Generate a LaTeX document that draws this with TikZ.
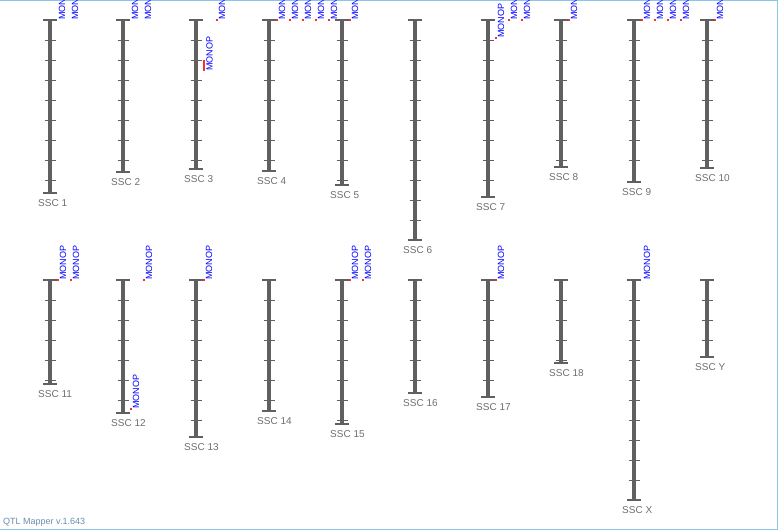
\documentclass[tikz,border=0pt]{standalone}
\usepackage{fontspec}
\setmainfont{Liberation Sans}
\definecolor{chrgray}{HTML}{606060}
\definecolor{namegray}{HTML}{6E6E6E}
\definecolor{qtlred}{HTML}{F03232}
\definecolor{frameblue}{HTML}{8CC4E8}
\definecolor{versionblue}{HTML}{6A8CAE}

\begin{document}
\begin{tikzpicture}[x=1pt,y=-1pt]
    \tikzstyle{chromosome}=[draw=chrgray, line width=4pt]
    \tikzstyle{chrend}=[draw=chrgray, line width=1.7pt]
    \tikzstyle{chrtick}=[draw=chrgray, line width=1pt]
    \tikzstyle{chrname}=[anchor=west, inner sep=0pt, text=namegray, font=\fontsize{10}{12}\selectfont]
    \tikzstyle{qtl}=[fill=qtlred, minimum size=2.5pt, inner sep=0pt]
    \tikzstyle{qtlspan}=[draw=qtlred, line width=2pt]
    \tikzstyle{qtllabel}=[rotate=90, anchor=west, inner sep=0pt, text=blue, font=\fontsize{9}{10}\selectfont]
    \tikzstyle{frame}=[draw=frameblue, line width=1pt]

    \useasboundingbox (0,0) rectangle (778,530);
    \clip (0,0) rectangle (778,530);

    % Panel frame
    \draw[frame] (0,0.5) -- (777.5,0.5) -- (777.5,529) -- (0,529);

    % Draw the chromosomes: name / x / top / bottom
    \foreach \name/\x/\top/\bot in {1/50/20/193, 2/123/20/172, 3/196/20/169, 4/269/20/171, 5/342/20/185,
        6/415/20/240, 7/488/20/197, 8/561/20/167, 9/634/20/182, 10/707/20/168,
        11/50/280/384, 12/123/280/413, 13/196/280/437, 14/269/280/411, 15/342/280/424,
        16/415/280/393, 17/488/280/397, 18/561/280/363, X/634/280/500, Y/707/280/357}
    {
        \coordinate (C-\name-top) at (\x,\top);
        \coordinate (C-\name-bot) at (\x,\bot);
        \path[chromosome] (C-\name-top) -- (C-\name-bot);
        \path[chrend] ([xshift=-7pt]C-\name-top) -- ([xshift=7pt]C-\name-top);
        \path[chrend] ([xshift=-7pt]C-\name-bot) -- ([xshift=7pt]C-\name-bot);
        \pgfmathtruncatemacro{\nticks}{(\bot-\top-3)/20}
        \foreach \k in {1,...,\nticks}
            \path[chrtick] ([xshift=-5.5pt,yshift=-20*\k pt]C-\name-top) -- ([xshift=5.5pt,yshift=-20*\k pt]C-\name-top);
        \node[chrname] (N-\name) at (\x-12,\bot+10) {SSC \name};
    }

    % QTL positions with marker
    \foreach \mx/\my in {217/20, 277/20, 290/20, 303/20, 316/20, 329/20, 350/20,
        496/38, 509/20, 522/20, 569/20, 642/20, 655/20, 668/20, 681/20, 715/20,
        58/280, 71/280, 144/280, 131/409, 204/280, 350/280, 363/280, 496/280}
    {
        \node[qtl] (Q-\mx-\my) at (\mx,\my) {};
        \node[qtllabel] (L-\mx-\my) at (\mx+5,\my) {MONOP};
    }
    % QTL labels without marker
    \foreach \lx/\ly in {62/20, 75/20, 135/20, 148/20, 647/280}
        \node[qtllabel] (L-\lx-\ly) at (\lx,\ly) {MONOP};

    % QTL interval on SSC 3
    \coordinate (S-top) at (204,60);
    \coordinate (S-bot) at (204,71);
    \path[qtlspan] (S-top) -- (S-bot);
    \node[qtllabel] (L-S) at (209.5,71) {MONOP};

    % Version
    \node[anchor=west, inner sep=0pt, text=versionblue, font=\fontsize{9}{10}\selectfont] (version) at (3,522) {QTL Mapper v.1.643};
\end{tikzpicture}
\end{document}
